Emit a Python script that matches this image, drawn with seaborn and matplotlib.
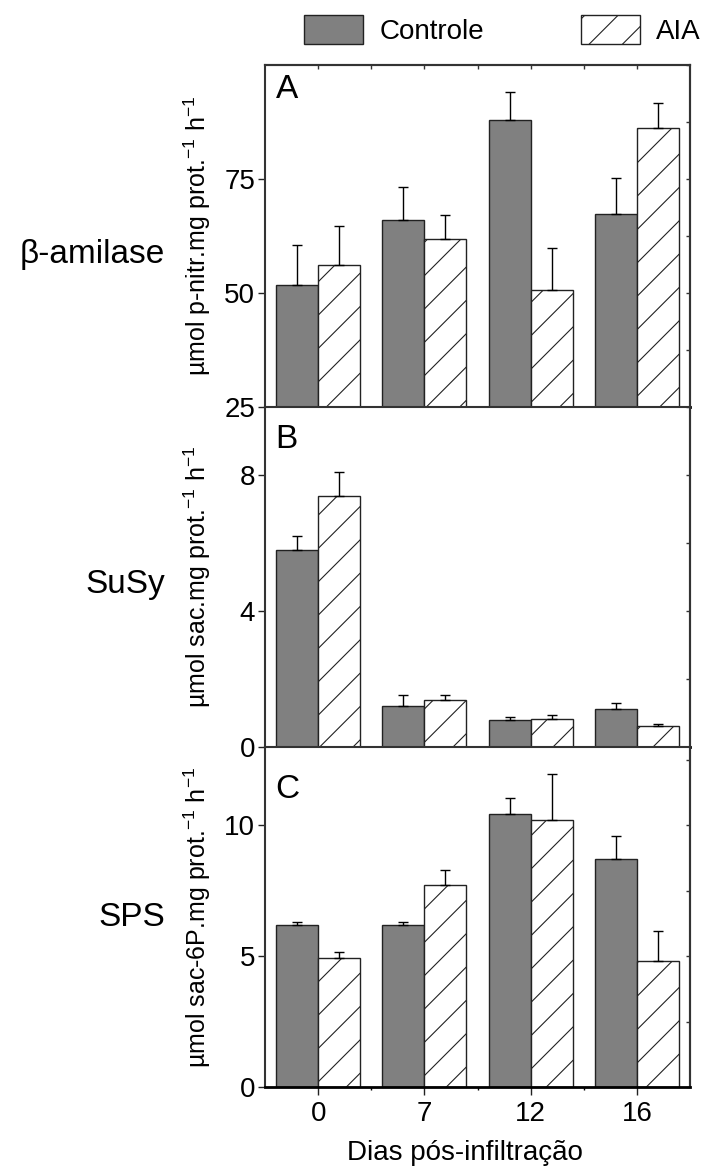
import numpy as np
import pandas as pd
import matplotlib
matplotlib.use('Agg')
import matplotlib.pyplot as plt
import seaborn as sns
from matplotlib.ticker import FixedLocator, MultipleLocator

# ---------------- data ----------------
dias = ['0', '7', '12', '16']
tratamentos = ['Controle', 'AIA']

amilase_ctrl = [51.7, 66.1, 87.9, 67.4]
amilase_aia = [56.2, 61.9, 50.7, 86.1]
amilase_ctrl_err = [8.8, 7.1, 6.2, 7.8]
amilase_aia_err = [8.4, 5.3, 9.1, 5.5]

susy_ctrl = [5.79, 1.22, 0.79, 1.13]
susy_aia = [7.38, 1.38, 0.82, 0.62]
susy_ctrl_err = [0.42, 0.30, 0.10, 0.16]
susy_aia_err = [0.71, 0.16, 0.13, 0.07]

sps_ctrl = [6.19, 6.19, 10.45, 8.73]
sps_aia = [4.93, 7.72, 10.19, 4.80]
sps_ctrl_err = [0.13, 0.12, 0.60, 0.85]
sps_aia_err = [0.22, 0.59, 1.77, 1.16]

panel_letters = ['A', 'B', 'C']
enzimas = ['\u03b2-amilase', 'SuSy', 'SPS']
ylabels = ['\u00b5mol p-nitr.mg prot.$^{-1}$ h$^{-1}$',
           '\u00b5mol sac.mg prot.$^{-1}$ h$^{-1}$',
           '\u00b5mol sac-6P.mg prot.$^{-1}$ h$^{-1}$']
xlabel = 'Dias p\u00f3s-infiltra\u00e7\u00e3o'

# ---------------- style ----------------
sns.set_theme(style='ticks')
plt.rcParams['font.family'] = ['Liberation Sans', 'DejaVu Sans']
plt.rcParams['mathtext.fontset'] = 'custom'
plt.rcParams['mathtext.rm'] = 'Liberation Sans'
plt.rcParams['mathtext.it'] = 'Liberation Sans:italic'
plt.rcParams['mathtext.bf'] = 'Liberation Sans:bold'
plt.rcParams['hatch.linewidth'] = 0.8
for k in ['text.color', 'axes.labelcolor', 'xtick.color', 'ytick.color']:
    plt.rcParams[k] = 'black'

fig = plt.figure(figsize=(7.1, 11.69), dpi=100)
left, width = 265 / 710, (690 - 265) / 710
H = 1169
boxes = [(65, 407), (407, 747), (747, 1087)]
axes = [fig.add_axes([left, 1 - b / H, width, (b - t) / H]) for t, b in boxes]

series = [
    (amilase_ctrl, amilase_aia, amilase_ctrl_err, amilase_aia_err, (25, 100), [25, 50, 75], 12.5),
    (susy_ctrl, susy_aia, susy_ctrl_err, susy_aia_err, (0, 10), [0, 4, 8], 2),
    (sps_ctrl, sps_aia, sps_ctrl_err, sps_aia_err, (0, 13), [0, 5, 10], 2.5),
]
letter_y = [0.975, 0.95, 0.92]
side_y = [255, 585, 918]

for i, (ax, (c, a, ce, ae, ylim, yt, minor)) in enumerate(zip(axes, series)):
    df = pd.DataFrame({
        'dia': dias * 2,
        'trat': ['Controle'] * 4 + ['AIA'] * 4,
        'val': c + a,
    })
    sns.barplot(data=df, x='dia', y='val', hue='trat', order=dias,
                hue_order=tratamentos,
                palette={'Controle': '#808080', 'AIA': 'white'},
                edgecolor='#222222', linewidth=1.0, errorbar=None,
                width=0.79, ax=ax, legend=False)
    for bar in ax.containers[1]:
        bar.set_hatch('/')
    for cont, errs in zip(ax.containers, [ce, ae]):
        for bar, e in zip(cont, errs):
            xc = bar.get_x() + bar.get_width() / 2
            ax.errorbar(xc, bar.get_height(), yerr=[[0], [e]], fmt='none',
                        ecolor='black', elinewidth=1.0, capsize=3.5, capthick=1.0,
                        zorder=1)
    ax.set_ylim(*ylim)
    ax.set_xlim(-0.5, 3.5)
    ax.set_yticks(yt)
    ax.yaxis.set_minor_locator(MultipleLocator(minor))
    ax.tick_params(axis='y', which='major', direction='out', length=5, width=1,
                   labelsize=20, pad=2, color='#222222')
    ax.tick_params(axis='y', which='minor', left=False)
    ax.set_ylabel(ylabels[i], fontsize=18)
    ax.yaxis.set_label_coords(-0.122, 0.5)
    ax.set_xlabel('')
    for sp in ['left', 'right', 'top']:
        ax.spines[sp].set_color('#333333')
        ax.spines[sp].set_linewidth(1.5)
    ax.spines['bottom'].set_color('black')
    ax.spines['bottom'].set_linewidth(2)
    ax.spines['bottom'].set_zorder(5)
    ax.xaxis.set_minor_locator(FixedLocator([0.5, 1.5, 2.5]))
    if i < 2:
        ax.tick_params(axis='x', which='both', bottom=False, labelbottom=False)
    else:
        ax.tick_params(axis='x', which='major', direction='out', length=6, width=1,
                       labelsize=20, pad=4, color='#222222')
        ax.tick_params(axis='x', which='minor', direction='out', length=2, width=1)
        ax.set_xlabel(xlabel, fontsize=20)
        ax.xaxis.set_label_coords(0.47, -0.155)
    # right-side inward ticks
    sec = ax.secondary_yaxis('right')
    sec.set_yticks(yt)
    sec.yaxis.set_minor_locator(MultipleLocator(minor))
    sec.tick_params(axis='y', which='both', direction='in', length=3, width=1,
                    labelright=False, color='#333333')
    sec.spines['right'].set_color('#333333')
    sec.spines['right'].set_linewidth(1.5)
    if i == 0:
        secx = ax.secondary_xaxis('top')
        secx.set_xticks([0, 1, 2, 3])
        secx.xaxis.set_minor_locator(FixedLocator([0.5, 1.5, 2.5]))
        secx.tick_params(axis='x', which='both', direction='in', length=3, width=1,
                         labeltop=False, color='#333333')
        secx.spines['top'].set_color('#333333')
        secx.spines['top'].set_linewidth(1.5)
    ax.text(0.025, letter_y[i], panel_letters[i], transform=ax.transAxes,
            ha='left', va='top', fontsize=24)
    fig.text(165 / 710, 1 - side_y[i] / H, enzimas[i], ha='right', va='center',
             fontsize=24)

h = [axes[0].containers[0][0], axes[0].containers[1][0]]
fig.legend(h, tratamentos, loc='center', bbox_to_anchor=(0.708, 1 - 30 / H),
           ncol=2, frameon=False, fontsize=20, handlelength=2.1,
           handleheight=1.25, columnspacing=3.5, handletextpad=0.6)

fig.savefig('out.png', dpi=100)
